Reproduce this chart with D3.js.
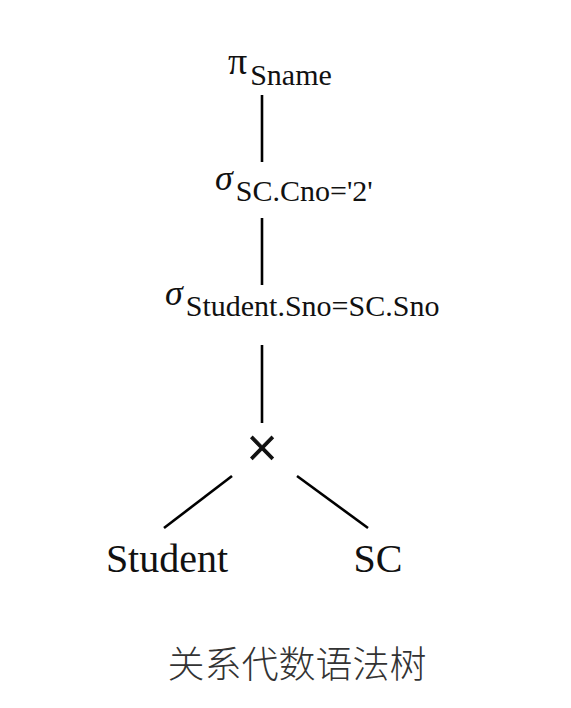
<!DOCTYPE html>
<html>
<head>
<meta charset="utf-8">
<script src="https://cdn.jsdelivr.net/npm/d3@7"></script>
<style>
  body { margin: 0; background: #fff; }
  .serif { font-family: "Liberation Serif", "Times New Roman", Times, "DejaVu Serif", serif; }
  .cjk { font-family: "Noto Sans CJK SC", sans-serif; }
</style>
</head>
<body>
<div id="tree"></div>
<script>
// Tree content.
const operators = ["π", "σ", "σ", "×"];
const subscripts = ["Sname", "SC.Cno='2'", "Student.Sno=SC.Sno", ""];
const leaves = ["Student", "SC"];
const edges = [[0, 1], [1, 2], [2, 3], [3, "Student"], [3, "SC"]];
const caption = "关系代数语法树";

// Layout.
const width = 571, height = 708;

// row index -> vertical position of the operator baseline
const yRow = d3.scaleOrdinal()
    .domain([0, 1, 2, 3, 4])
    .range([74, 190, 305, 467, 572]);

// column -> horizontal centre
const xCol = d3.scaleOrdinal()
    .domain(["center", "Student", "SC"])
    .range([262, 167, 378]);

// where each operator sign starts, relative to the centre line
const opOffset = [-34, -47, -97, 0];
const opSize = [38, 36, 36, 56];

const svg = d3.select('#tree')
    .append('svg')
    .attr('width', width)
    .attr('height', height);

// Vertical edges between operators (top gap, bottom gap).
const vGaps = [[21, 28], [28, 20], [40, 44]];
svg.selectAll('line.v')
    .data(edges.filter(e => typeof e[1] === "number"))
    .join('line')
    .attr('class', 'v')
    .attr('x1', xCol("center"))
    .attr('x2', xCol("center"))
    .attr('y1', (d, i) => yRow(d[0]) + vGaps[i][0])
    .attr('y2', (d, i) => yRow(d[1]) - vGaps[i][1])
    .attr('stroke', '#000')
    .attr('stroke-width', 2.6);

// Diagonal edges from the product to the relations.
const diag = {dx: 30, y1: 476, y2: 528, end: {Student: -3, SC: -10}};
svg.selectAll('line.d')
    .data(edges.filter(e => typeof e[1] === "string"))
    .join('line')
    .attr('class', 'd')
    .attr('x1', d => xCol("center") + (xCol(d[1]) < xCol("center") ? -diag.dx : diag.dx + 5))
    .attr('y1', diag.y1)
    .attr('x2', d => xCol(d[1]) + diag.end[d[1]])
    .attr('y2', diag.y2)
    .attr('stroke', '#000')
    .attr('stroke-width', 2.6);

// Operator nodes with subscripts.
const ops = svg.selectAll('text.op')
    .data(operators)
    .join('text')
    .attr('class', 'op serif')
    .attr('fill', '#111')
    .attr('y', (d, i) => yRow(i))
    .attr('x', (d, i) => i === 3 ? xCol("center") : xCol("center") + opOffset[i])
    .attr('text-anchor', (d, i) => i === 3 ? 'middle' : 'start');

ops.append('tspan')
    .attr('font-size', (d, i) => opSize[i])
    .attr('font-style', d => d === "σ" ? 'italic' : 'normal')
    .attr('stroke', d => d === "×" ? '#111' : 'none')
    .attr('stroke-width', 1)
    .text(d => d);

ops.append('tspan')
    .attr('font-size', 30)
    .attr('dy', 11)
    .attr('dx', 3)
    .text((d, i) => subscripts[i]);

// Relation leaves.
svg.selectAll('text.leaf')
    .data(leaves)
    .join('text')
    .attr('class', 'leaf serif')
    .attr('x', d => xCol(d))
    .attr('y', yRow(4))
    .attr('text-anchor', 'middle')
    .attr('font-size', 40)
    .attr('fill', '#111')
    .text(d => d);

// Caption.
svg.append('text')
    .attr('class', 'cjk')
    .attr('x', 297)
    .attr('y', 678)
    .attr('text-anchor', 'middle')
    .attr('font-size', 37)
    .attr('font-weight', 300)
    .attr('fill', '#333')
    .text(caption);
</script>
</body>
</html>
